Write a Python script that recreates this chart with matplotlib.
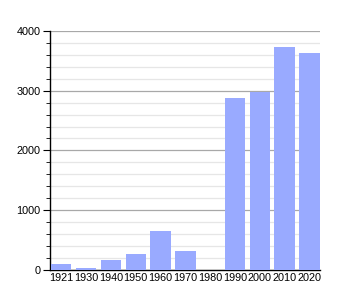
import matplotlib
matplotlib.use('Agg')
import matplotlib.pyplot as plt
from matplotlib.ticker import MultipleLocator

# 数据
years = ['1921', '1930', '1940', '1950', '1960', '1970', '1980', '1990', '2000', '2010', '2020']
population = [100, 35, 168, 268, 652, 318, 0, 2874, 2979, 3732, 3632]

plt.rcParams['font.family'] = ['Liberation Sans', 'DejaVu Sans']

fig = plt.figure(figsize=(3.5, 3.0), dpi=100)
ax = fig.add_axes([0.143, 0.1, 0.771, 0.797])

x = range(len(years))
ax.bar(x, population, width=0.82, color='#99aaff', zorder=3)

ax.set_xlim(-0.45, 10.42)
ax.set_ylim(0, 4000)
ax.yaxis.set_major_locator(MultipleLocator(1000))
ax.yaxis.set_minor_locator(MultipleLocator(200))
ax.grid(which='major', axis='y', color='#a8a8a8', linewidth=0.9, zorder=0)
ax.grid(which='minor', axis='y', color='#e6e6e6', linewidth=0.9, zorder=0)

ax.set_xticks(list(x))
ax.set_xticklabels(years)
ax.tick_params(axis='x', length=0, labelsize=7.8, pad=2)
ax.tick_params(axis='y', which='major', length=5, labelsize=7.8, pad=2)
ax.tick_params(axis='y', which='minor', length=3)

for s in ['top', 'right']:
    ax.spines[s].set_visible(False)
ax.spines['left'].set_linewidth(1.0)
ax.spines['bottom'].set_linewidth(1.0)

fig.savefig('out.png', dpi=100)
